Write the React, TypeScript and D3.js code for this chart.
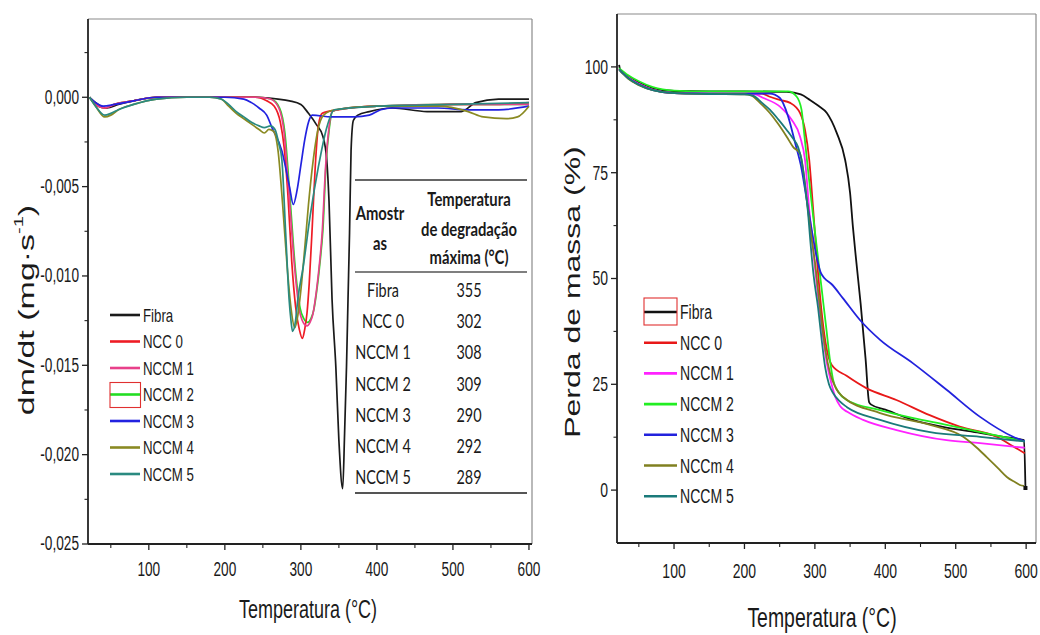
import React from "react";
import * as d3 from "d3";

type P = [number, number];

// ---------- DATA ----------
const tempTicks = [100, 200, 300, 400, 500, 600];
const tempMinor = [50, 150, 250, 350, 450, 550];
const dtgTicks = [0, -0.005, -0.01, -0.015, -0.02, -0.025];
const dtgMinor = [0.0025, -0.0025, -0.0075, -0.0125, -0.0175, -0.0225];
const massTicks = [0, 25, 50, 75, 100];
const massMinor = [12.5, 37.5, 62.5, 87.5];

const leftNames = ["Fibra", "NCC 0", "NCCM 1", "NCCM 2", "NCCM 3", "NCCM 4", "NCCM 5"];
const rightNames = ["Fibra", "NCC 0", "NCCM 1", "NCCM 2", "NCCM 3", "NCCm 4", "NCCM 5"];
const tableSamples = ["Fibra", "NCC 0", "NCCM 1", "NCCM 2", "NCCM 3", "NCCM 4", "NCCM 5"];
const tableTemps = ["355", "302", "308", "309", "290", "292", "289"];

// DTG (dm/dt, mg·s-1) vs temperature
const dtgFibra: P[] = [[22, 0], [30, -0.0003], [45, -0.0006], [60, -0.0004], [80, -0.0002], [110, 0], [150, 0], [200, 0], [240, 0], [270, -0.0001], [285, -0.0002], [300, -0.0004], [310, -0.0009], [320, -0.0015], [329, -0.0022], [334, -0.0035], [337, -0.0058], [341, -0.0113], [346, -0.0151], [350, -0.0192], [355, -0.0219], [357.5, -0.0188], [360, -0.0151], [362, -0.0113], [364, -0.0076], [366, -0.003], [369, -0.0013], [375, -0.001], [390, -0.0008], [420, -0.0006], [466, -0.0008], [511, -0.0008], [530, -0.0003], [560, -0.0001], [600, -0.0001]];
const dtgNCC0: P[] = [[22, 0], [30, -0.0004], [42, -0.0006], [55, -0.0004], [80, -0.0002], [110, 0], [150, 0], [200, 0], [240, 0], [255, -0.0002], [265, -0.0005], [273, -0.0014], [278, -0.0028], [283, -0.0055], [288, -0.0092], [293, -0.0117], [298, -0.013], [302, -0.0135], [305, -0.013], [308, -0.0121], [311, -0.0104], [315, -0.0072], [319, -0.0038], [323, -0.0016], [328, -0.0009], [350, -0.0007], [400, -0.0005], [450, -0.0005], [500, -0.0004], [550, -0.0004], [600, -0.0003]];
const dtgNCCM1: P[] = [[22, 0], [30, -0.0004], [42, -0.0006], [55, -0.0004], [80, -0.0002], [110, 0], [150, 0], [200, 0], [245, 0], [260, -0.0001], [271, -0.0006], [278, -0.002], [285, -0.0058], [291.7, -0.0095], [298, -0.0119], [303, -0.0126], [308, -0.0128], [312, -0.0126], [316, -0.0121], [319, -0.0113], [324, -0.0095], [328, -0.0076], [332.5, -0.0039], [337, -0.0017], [341, -0.0008], [360, -0.0006], [400, -0.0005], [500, -0.0004], [600, -0.0004]];
const dtgNCCM2: P[] = [[22, 0], [30, -0.0004], [42, -0.0006], [55, -0.0004], [80, -0.0002], [110, 0], [150, 0], [200, 0], [245, 0], [261, -0.0001], [272, -0.0006], [279, -0.002], [286, -0.0058], [292.5, -0.0095], [299, -0.0118], [304, -0.0124], [309, -0.0126], [313, -0.0124], [317, -0.0119], [320, -0.0111], [325, -0.0093], [329, -0.0074], [333, -0.0038], [337.5, -0.0017], [341.5, -0.0008], [360, -0.0006], [400, -0.0005], [500, -0.0004], [600, -0.0004]];
const dtgNCCM3: P[] = [[22, 0], [30, -0.0003], [40, -0.0005], [55, -0.0004], [80, -0.0002], [110, 0], [150, 0], [200, 0], [225, -0.0001], [235, -0.0003], [245, -0.0006], [255, -0.001], [262, -0.0017], [275, -0.003], [285, -0.005], [290, -0.006], [295, -0.0052], [300, -0.0038], [305, -0.0024], [310, -0.0014], [315, -0.001], [340, -0.0011], [370, -0.0011], [390, -0.001], [405, -0.0007], [420, -0.0006], [480, -0.0006], [520, -0.0007], [560, -0.0007], [600, -0.0005]];
const dtgNCCM4: P[] = [[22, 0], [30, -0.0005], [42, -0.0011], [50, -0.001], [60, -0.0007], [80, -0.0004], [110, -0.0001], [150, 0], [180, 0], [195, -0.0001], [205, -0.0005], [215, -0.0009], [225, -0.0012], [235, -0.0015], [245, -0.0018], [252, -0.002], [258, -0.0018], [264, -0.0019], [270, -0.003], [276, -0.006], [282, -0.0095], [287, -0.0118], [292, -0.0129], [296, -0.0122], [300, -0.0108], [305, -0.0085], [310, -0.006], [316, -0.0036], [322, -0.0019], [330, -0.001], [345, -0.0007], [400, -0.0005], [480, -0.0005], [520, -0.0008], [540, -0.0011], [570, -0.0012], [585, -0.0011], [600, -0.0005]];
const dtgNCCM5: P[] = [[22, 0], [30, -0.0005], [42, -0.001], [50, -0.0009], [60, -0.0007], [80, -0.0004], [110, -0.0001], [150, 0], [180, 0], [195, -0.0001], [205, -0.0004], [215, -0.0008], [225, -0.0011], [235, -0.0014], [245, -0.0016], [252, -0.0017], [260, -0.0016], [266, -0.0018], [271, -0.0026], [275, -0.0035], [280, -0.0076], [284.5, -0.0113], [287, -0.0125], [289, -0.0131], [293, -0.0125], [296, -0.0113], [303, -0.0095], [312, -0.0067], [323, -0.0039], [334, -0.0017], [344, -0.0007], [400, -0.0005], [500, -0.0004], [600, -0.0003]];

// TG (mass %) vs temperature
const tgFibra: P[] = [[22, 100.5], [24, 99], [35, 97.8], [50, 96.3], [70, 95], [100, 94.3], [150, 94.2], [200, 94.2], [260, 94.1], [280, 93.5], [293, 92.2], [305, 90.8], [317, 89.1], [331, 84.4], [343, 78], [350, 70.2], [354, 62.2], [358.5, 54.5], [365, 44], [372, 31], [377, 20.8], [380, 20.2], [400, 19], [439, 16.6], [480, 15], [534, 13.5], [570, 12.5], [597, 11.8], [599, 0.5]];
const tgNCC0: P[] = [[22, 99.5], [35, 97.5], [50, 96], [70, 94.6], [100, 93.8], [150, 93.7], [225, 93.7], [235, 93], [250, 92.2], [265, 91.5], [279, 89.1], [286, 85.1], [292, 78], [297.6, 66.2], [303, 54.4], [309, 43], [315, 35], [323.7, 29.6], [345, 27], [373, 24.1], [415.7, 21.3], [463, 17.7], [505.6, 15], [558, 12.6], [580, 10.5], [598, 8.7]];
const tgNCCM1: P[] = [[22, 99.5], [35, 97.5], [50, 96], [70, 94.6], [100, 93.8], [150, 93.7], [215, 93.5], [226, 92.7], [250.5, 90.6], [267, 87.5], [279, 83.5], [286, 78], [292, 66.2], [299, 54.4], [305, 45], [311, 37], [317, 30], [323, 25.5], [329, 22], [336, 19.8], [346, 18.5], [368.5, 16.6], [416, 14.2], [487, 11.8], [534.6, 11.1], [598, 10]];
const tgNCCM2: P[] = [[22, 99.7], [35, 98], [50, 96.6], [70, 95.2], [100, 94.4], [150, 94.2], [262, 94.2], [274, 93], [281, 89.9], [285, 84], [290, 76], [297, 65.5], [304, 55.5], [310, 47], [316, 38.5], [321.6, 30.5], [326, 26], [333, 23.3], [345, 21.3], [392.6, 18.9], [440, 17], [487, 15.4], [540, 13.5], [598, 11.5]];
const tgNCCM3: P[] = [[22, 99.4], [35, 97.3], [50, 95.8], [70, 94.5], [100, 93.8], [150, 93.7], [236, 93.7], [250, 92.7], [262, 88.3], [272, 82], [281, 76], [288, 69], [295, 62], [302, 55.5], [308, 51.5], [314, 50], [323.5, 48.7], [340, 45.3], [364, 40.2], [392.6, 35.5], [439, 30], [487, 23.7], [534.6, 17.3], [581.5, 12.6], [598, 11.5]];
const tgNCCM4: P[] = [[22, 99.4], [35, 97.2], [50, 95.7], [70, 94.5], [100, 93.8], [150, 93.6], [200, 93.5], [210, 93.2], [222, 91.5], [236, 89.1], [248, 86.5], [260, 83.5], [269, 81.1], [279, 79.5], [284, 75], [289, 68], [294, 61], [300, 54], [305, 46.5], [309.8, 39.5], [315, 33], [321.6, 27.6], [330, 24], [340, 22], [392.6, 18.2], [463.6, 15.4], [510.6, 12.6], [530, 10], [544, 7.8], [560, 5.2], [572.6, 3.1], [585, 1.8], [591, 1.2], [597, 1]];
const tgNCCM5: P[] = [[22, 99.4], [35, 97.3], [50, 95.8], [70, 94.5], [100, 93.8], [150, 93.6], [200, 93.5], [212, 93.2], [225, 91.5], [236, 89.9], [248, 87.6], [260, 85.1], [268, 83.3], [276, 81.1], [281, 78], [286, 72], [290, 66], [294, 58], [298, 51], [304.6, 43], [309, 36.5], [314.5, 29.1], [320, 25], [326, 22.9], [335, 21], [345.6, 19.6], [392.6, 16.6], [463.6, 13.7], [534.6, 12.6], [598, 11.5]];

const leftData = [dtgFibra, dtgNCC0, dtgNCCM1, dtgNCCM2, dtgNCCM3, dtgNCCM4, dtgNCCM5];
const rightData = [tgFibra, tgNCC0, tgNCCM1, tgNCCM2, tgNCCM3, tgNCCM4, tgNCCM5];

// ---------- STYLE ----------
const leftColors = ["#1a1a1a", "#ee1c25", "#e8408a", "#22dd22", "#2222e0", "#8a8a22", "#2a8a80"];
const rightColors = ["#111111", "#e81818", "#ff22ff", "#22ee22", "#2222dd", "#808020", "#1a7a7a"];
const leftDrawOrder = [3, 0, 1, 2, 4, 5, 6];
const rightDrawOrder = [0, 1, 2, 3, 4, 5, 6];

const ARIAL = "'Liberation Sans', Arial, sans-serif";
const TABLE_FONT = "Lato, 'Open Sans', sans-serif";

type TxtProps = {
  x: number; y: number; size: number; sx?: number; anchor?: string; weight?: string;
  family?: string; fill?: string; rotate?: boolean; children: React.ReactNode;
};
function Txt({ x, y, size, sx = 0.7, anchor = "start", weight = "normal", family = ARIAL, fill = "#1a1a1a", rotate = false, children }: TxtProps) {
  const tr = rotate
    ? `translate(${x},${y}) rotate(-90) scale(1,${sx})`
    : `translate(${x},${y}) scale(${sx},1)`;
  return (
    <text transform={tr} fontSize={size} textAnchor={anchor as any} fontWeight={weight}
      fontFamily={family} fill={fill} dominantBaseline="central">
      {children}
    </text>
  );
}

const fmtDtg = (v: number) => d3.format(".3f")(v).replace(".", ",").replace("−", "-");

export default function App() {
  // Left (DTG)
  const xL = d3.scaleLinear().domain([20, 604]).range([88, 532]);
  const yL = d3.scaleLinear().domain([-0.025, 0.00438]).range([544, 19]);
  // Right (TG)
  const xR = d3.scaleLinear().domain([19, 614]).range([617, 1036]);
  const yR = d3.scaleLinear().domain([-12.5, 112.5]).range([543, 14]);

  const lineL = d3.line<P>().x(d => xL(d[0])).y(d => yL(d[1])).curve(d3.curveMonotoneX);
  const lineR = d3.line<P>().x(d => xR(d[0])).y(d => yR(d[1])).curve(d3.curveMonotoneX);

  const [lx0, lx1] = xL.range();
  const [ly0, ly1] = [yL.range()[1], yL.range()[0]];
  const [rx0, rx1] = xR.range();
  const [ry0, ry1] = [yR.range()[1], yR.range()[0]];

  const legendL = { x0: 110, x1: 140, tx: 143, y0: 315, dy: 26.5 };
  const legendR = { x0: 644, x1: 677, tx: 680, y0: 312, dy: 30.7 };

  const tbl = { x0: 355, x1: 527, c1: 383, c2: 469, top: 180, mid: 272, bot: 493, row0: 290, dy: 31.3 };

  const lastFibra = tgFibra[tgFibra.length - 1];

  return (
    <svg width={1040} height={635} style={{ position: "absolute", left: 0, top: 0, display: "block", background: "#fff" }}>
      <rect x={0} y={0} width={1040} height={635} fill="#fff" />

      {/* ===== LEFT CHART ===== */}
      <g>
        <line x1={lx0} x2={lx1} y1={ly0} y2={ly0} stroke="#8a8a8a" strokeWidth={1.2} />
        <line x1={lx1} x2={lx1} y1={ly0} y2={ly1} stroke="#8a8a8a" strokeWidth={1.2} />
        {leftDrawOrder.map(i => (
          <path key={i} d={lineL(leftData[i]) || ""} fill="none" stroke={leftColors[i]} strokeWidth={1.7} />
        ))}
        <line x1={lx0} x2={lx0} y1={ly0} y2={ly1} stroke="#222" strokeWidth={1.8} />
        <line x1={lx0} x2={lx1} y1={ly1} y2={ly1} stroke="#222" strokeWidth={2} />
        {dtgTicks.map(t => (
          <g key={t}>
            <line x1={lx0 - 6} x2={lx0} y1={yL(t)} y2={yL(t)} stroke="#222" strokeWidth={1.3} />
            <Txt x={lx0 - 9} y={yL(t)} size={19.5} anchor="end">{fmtDtg(t)}</Txt>
          </g>
        ))}
        {dtgMinor.map(t => (
          <line key={t} x1={lx0 - 3.5} x2={lx0} y1={yL(t)} y2={yL(t)} stroke="#222" strokeWidth={1.1} />
        ))}
        {tempTicks.map(t => (
          <g key={t}>
            <line x1={xL(t)} x2={xL(t)} y1={ly1} y2={ly1 + 6} stroke="#222" strokeWidth={1.3} />
            <Txt x={xL(t)} y={569.5} size={19.5} anchor="middle">{t}</Txt>
          </g>
        ))}
        {tempMinor.map(t => (
          <line key={t} x1={xL(t)} x2={xL(t)} y1={ly1} y2={ly1 + 4} stroke="#222" strokeWidth={1.1} />
        ))}
        <Txt x={308} y={609} size={25} sx={0.72} anchor="middle">Temperatura (°C)</Txt>
        <text transform="translate(26,310) rotate(-90) scale(1,0.66)" fontSize={34} fontFamily={ARIAL}
          fill="#1a1a1a" textAnchor="middle" dominantBaseline="central">
          dm/dt (mg·s<tspan dy={-12} fontSize={20}>-1</tspan><tspan dy={12}>)</tspan>
        </text>

        {leftNames.map((n, i) => {
          const y = legendL.y0 + i * legendL.dy;
          return (
            <g key={n}>
              <line x1={legendL.x0} x2={legendL.x1} y1={y} y2={y} stroke={leftColors[i]} strokeWidth={2.6} />
              <Txt x={legendL.tx} y={y} size={19}>{n}</Txt>
            </g>
          );
        })}
        <rect x={legendL.x0} y={legendL.y0 + 3 * legendL.dy - 12} width={legendL.x1 - legendL.x0 + 0.5} height={25}
          fill="none" stroke="#e03030" strokeWidth={1.1} />

        <line x1={tbl.x0} x2={tbl.x1} y1={tbl.top} y2={tbl.top} stroke="#333" strokeWidth={1.6} />
        <line x1={tbl.x0} x2={tbl.x1} y1={tbl.mid} y2={tbl.mid} stroke="#555" strokeWidth={1.3} />
        <line x1={tbl.x0} x2={tbl.x1} y1={tbl.bot} y2={tbl.bot} stroke="#555" strokeWidth={1.8} />
        <Txt x={tbl.c1 - 3} y={213} size={18.5} sx={0.8} anchor="middle" weight="bold" family={TABLE_FONT}>Amostr</Txt>
        <Txt x={tbl.c1 - 3} y={243} size={18.5} sx={0.8} anchor="middle" weight="bold" family={TABLE_FONT}>as</Txt>
        <Txt x={tbl.c2} y={199} size={18.5} sx={0.8} anchor="middle" weight="bold" family={TABLE_FONT}>Temperatura</Txt>
        <Txt x={tbl.c2} y={229} size={18.5} sx={0.8} anchor="middle" weight="bold" family={TABLE_FONT}>de degradação</Txt>
        <Txt x={tbl.c2} y={257} size={18.5} sx={0.8} anchor="middle" weight="bold" family={TABLE_FONT}>máxima (°C)</Txt>
        {tableSamples.map((s, i) => {
          const y = tbl.row0 + i * tbl.dy;
          return (
            <g key={s}>
              <Txt x={tbl.c1} y={y} size={18.5} sx={0.78} anchor="middle" family={TABLE_FONT}>{s}</Txt>
              <Txt x={tbl.c2} y={y} size={18.5} sx={0.78} anchor="middle" family={TABLE_FONT}>{tableTemps[i]}</Txt>
            </g>
          );
        })}
      </g>

      {/* ===== RIGHT CHART ===== */}
      <g>
        <line x1={rx0} x2={rx1} y1={ry0} y2={ry0} stroke="#8a8a8a" strokeWidth={1.2} />
        <line x1={rx1} x2={rx1} y1={ry0} y2={ry1} stroke="#8a8a8a" strokeWidth={1.2} />
        {rightDrawOrder.map(i => (
          <path key={i} d={lineR(rightData[i]) || ""} fill="none" stroke={rightColors[i]} strokeWidth={1.8} />
        ))}
        <rect x={xR(lastFibra[0]) - 2} y={yR(lastFibra[1]) - 2} width={4} height={4} fill="#111" />
        <line x1={rx0} x2={rx0} y1={ry0} y2={ry1} stroke="#222" strokeWidth={1.8} />
        <line x1={rx0} x2={rx1} y1={ry1} y2={ry1} stroke="#222" strokeWidth={2} />
        {massTicks.map(t => (
          <g key={t}>
            <line x1={rx0 - 6} x2={rx0} y1={yR(t)} y2={yR(t)} stroke="#222" strokeWidth={1.3} />
            <Txt x={rx0 - 9} y={yR(t)} size={20} anchor="end">{t}</Txt>
          </g>
        ))}
        {massMinor.map(t => (
          <line key={t} x1={rx0 - 3.5} x2={rx0} y1={yR(t)} y2={yR(t)} stroke="#222" strokeWidth={1.1} />
        ))}
        {tempTicks.map(t => (
          <g key={t}>
            <line x1={xR(t)} x2={xR(t)} y1={ry1} y2={ry1 + 6} stroke="#222" strokeWidth={1.3} />
            <Txt x={xR(t)} y={571.5} size={20} anchor="middle">{t}</Txt>
          </g>
        ))}
        {tempMinor.map(t => (
          <line key={t} x1={xR(t)} x2={xR(t)} y1={ry1} y2={ry1 + 4} stroke="#222" strokeWidth={1.1} />
        ))}
        <Txt x={822} y={618} size={27} sx={0.72} anchor="middle">Temperatura (°C)</Txt>
        <Txt x={572} y={292} size={32} sx={0.7} anchor="middle" rotate>Perda de massa (%)</Txt>

        {rightNames.map((n, i) => {
          const y = legendR.y0 + i * legendR.dy;
          return (
            <g key={n}>
              <line x1={legendR.x0} x2={legendR.x1} y1={y} y2={y} stroke={rightColors[i]} strokeWidth={2.6} />
              <Txt x={legendR.tx} y={y} size={21} sx={0.67}>{n}</Txt>
            </g>
          );
        })}
        <rect x={legendR.x0} y={legendR.y0 - 14} width={legendR.x1 - legendR.x0} height={27}
          fill="none" stroke="#e03030" strokeWidth={1.1} />
      </g>
    </svg>
  );
}
